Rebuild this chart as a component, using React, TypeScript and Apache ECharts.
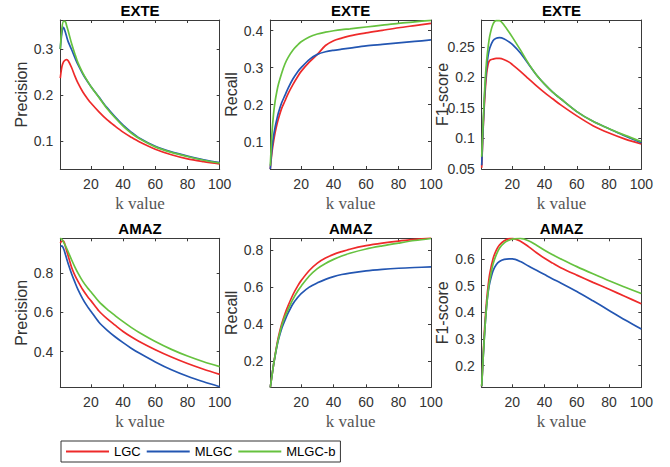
import React, { useEffect, useRef } from "react";
import * as echarts from "echarts";

// ---- data ----
const K = [1, 2, 3, 4, 5, 6, 8, 10, 12, 15, 18, 20, 25, 30, 35, 40, 45, 50, 60, 70, 80, 90, 100];
const SERIES_NAMES = ["LGC", "MLGC", "MLGC-b"];
const COLORS = ["#ee2a2a", "#2356b2", "#66c23f"];
const X_TICKS = [20, 40, 60, 80, 100];

// EXTE
const extePrecLGC = [0.237, 0.262, 0.272, 0.276, 0.277, 0.274, 0.26, 0.242, 0.226, 0.207, 0.192, 0.183, 0.164, 0.147, 0.133, 0.12, 0.109, 0.099, 0.083, 0.071, 0.062, 0.056, 0.051];
const extePrecMLGC = [0.30, 0.335, 0.347, 0.338, 0.326, 0.315, 0.299, 0.282, 0.266, 0.246, 0.229, 0.219, 0.196, 0.173, 0.153, 0.135, 0.12, 0.107, 0.089, 0.077, 0.068, 0.06, 0.054];
const extePrecMLGCb = [0.30, 0.345, 0.36, 0.36, 0.35, 0.338, 0.312, 0.29, 0.27, 0.248, 0.23, 0.219, 0.195, 0.171, 0.151, 0.133, 0.118, 0.106, 0.088, 0.076, 0.067, 0.059, 0.053];

const exteRecLGC = [0.026, 0.07, 0.10, 0.125, 0.145, 0.162, 0.19, 0.21, 0.23, 0.255, 0.277, 0.29, 0.315, 0.336, 0.36, 0.373, 0.38, 0.386, 0.394, 0.401, 0.408, 0.414, 0.42];
const exteRecMLGC = [0.026, 0.08, 0.115, 0.14, 0.16, 0.178, 0.205, 0.225, 0.245, 0.27, 0.29, 0.3, 0.322, 0.336, 0.343, 0.347, 0.35, 0.353, 0.359, 0.363, 0.367, 0.371, 0.375];
const exteRecMLGCb = [0.035, 0.12, 0.175, 0.21, 0.235, 0.255, 0.285, 0.31, 0.328, 0.348, 0.362, 0.37, 0.383, 0.391, 0.396, 0.4, 0.403, 0.405, 0.41, 0.415, 0.42, 0.424, 0.428];

const exteF1LGC = [0.052, 0.122, 0.171, 0.205, 0.222, 0.228, 0.23, 0.231, 0.231, 0.229, 0.225, 0.221, 0.21, 0.198, 0.186, 0.175, 0.165, 0.155, 0.137, 0.121, 0.109, 0.099, 0.091];
const exteF1MLGC = [0.056, 0.125, 0.18, 0.215, 0.236, 0.248, 0.26, 0.264, 0.265, 0.263, 0.258, 0.254, 0.24, 0.222, 0.204, 0.189, 0.176, 0.165, 0.144, 0.128, 0.116, 0.104, 0.093];
const exteF1MLGCb = [0.07, 0.133, 0.188, 0.226, 0.25, 0.268, 0.287, 0.293, 0.293, 0.285, 0.274, 0.266, 0.245, 0.223, 0.204, 0.189, 0.176, 0.165, 0.144, 0.128, 0.116, 0.105, 0.095];

// AMAZ
const amazPrecLGC = [0.952, 0.963, 0.963, 0.94, 0.912, 0.885, 0.83, 0.79, 0.758, 0.715, 0.68, 0.66, 0.607, 0.568, 0.535, 0.503, 0.476, 0.452, 0.41, 0.373, 0.34, 0.311, 0.285];
const amazPrecMLGC = [0.935, 0.938, 0.925, 0.9, 0.872, 0.845, 0.797, 0.755, 0.716, 0.668, 0.628, 0.606, 0.55, 0.51, 0.476, 0.446, 0.418, 0.393, 0.348, 0.308, 0.275, 0.247, 0.222];
const amazPrecMLGCb = [0.977, 0.972, 0.958, 0.942, 0.925, 0.906, 0.868, 0.832, 0.8, 0.758, 0.724, 0.705, 0.655, 0.617, 0.584, 0.553, 0.524, 0.498, 0.452, 0.412, 0.378, 0.349, 0.324];

const amazRecLGC = [0.058, 0.12, 0.18, 0.235, 0.285, 0.33, 0.4, 0.455, 0.5, 0.56, 0.608, 0.635, 0.69, 0.73, 0.757, 0.777, 0.792, 0.805, 0.824, 0.838, 0.849, 0.858, 0.866];
const amazRecMLGC = [0.058, 0.12, 0.18, 0.23, 0.275, 0.315, 0.375, 0.42, 0.46, 0.51, 0.545, 0.565, 0.6, 0.623, 0.642, 0.657, 0.668, 0.676, 0.688, 0.696, 0.702, 0.706, 0.709];
const amazRecMLGCb = [0.058, 0.12, 0.18, 0.232, 0.28, 0.32, 0.39, 0.44, 0.48, 0.535, 0.58, 0.605, 0.66, 0.7, 0.728, 0.75, 0.768, 0.783, 0.806, 0.823, 0.838, 0.852, 0.863];

const amazF1LGC = [0.123, 0.25, 0.36, 0.44, 0.5, 0.545, 0.6, 0.632, 0.652, 0.668, 0.676, 0.677, 0.666, 0.646, 0.623, 0.602, 0.584, 0.567, 0.539, 0.512, 0.486, 0.459, 0.432];
const amazF1MLGC = [0.123, 0.24, 0.34, 0.42, 0.475, 0.51, 0.555, 0.578, 0.59, 0.598, 0.6, 0.6, 0.59, 0.573, 0.557, 0.541, 0.525, 0.51, 0.478, 0.443, 0.407, 0.371, 0.337];
const amazF1MLGCb = [0.123, 0.24, 0.34, 0.42, 0.48, 0.52, 0.58, 0.615, 0.64, 0.66, 0.67, 0.674, 0.677, 0.668, 0.651, 0.632, 0.615, 0.6, 0.571, 0.544, 0.518, 0.494, 0.47];

const PANELS = [
  { title: "EXTE", yName: "Precision", series: [extePrecLGC, extePrecMLGC, extePrecMLGCb], yMin: 0.04, yMax: 0.363, yTicks: [0.1, 0.2, 0.3] },
  { title: "EXTE", yName: "Recall", series: [exteRecLGC, exteRecMLGC, exteRecMLGCb], yMin: 0.026, yMax: 0.429, yTicks: [0.1, 0.2, 0.3, 0.4] },
  { title: "EXTE", yName: "F1-score", series: [exteF1LGC, exteF1MLGC, exteF1MLGCb], yMin: 0.05, yMax: 0.294, yTicks: [0.05, 0.1, 0.15, 0.2, 0.25] },
  { title: "AMAZ", yName: "Precision", series: [amazPrecLGC, amazPrecMLGC, amazPrecMLGCb], yMin: 0.219, yMax: 0.977, yTicks: [0.4, 0.6, 0.8] },
  { title: "AMAZ", yName: "Recall", series: [amazRecLGC, amazRecMLGC, amazRecMLGCb], yMin: 0.058, yMax: 0.864, yTicks: [0.2, 0.4, 0.6, 0.8] },
  { title: "AMAZ", yName: "F1-score", series: [amazF1LGC, amazF1MLGC, amazF1MLGCb], yMin: 0.119, yMax: 0.677, yTicks: [0.2, 0.3, 0.4, 0.5, 0.6] },
];

// layout
const COL_LEFT = [60.3, 270.3, 481.7];
const COL_WIDTH = [159.4, 160.7, 159.6];
const ROW_TOP = [20, 238.3];
const PLOT_H = 149;

const AXIS_COLOR = "#3a3a3a";
const LABEL_COLOR = "#333";
const SANS = "Liberation Sans";
const SERIF = "'Liberation Serif', 'DejaVu Serif', serif";

function buildOption() {
  const grid: any[] = [];
  const xAxis: any[] = [];
  const yAxis: any[] = [];
  const series: any[] = [];
  const graphic: any[] = [];

  PANELS.forEach((p, i) => {
    const col = i % 3;
    const row = Math.floor(i / 3);
    const left = COL_LEFT[col];
    const top = ROW_TOP[row];
    const width = COL_WIDTH[col];
    grid.push({ left, top, width, height: PLOT_H, containLabel: false });

    const tickBase = {
      show: true,
      inside: true,
      length: 3,
      lineStyle: { color: AXIS_COLOR, width: 1 },
    };
    const lineBase = { show: true, onZero: false, lineStyle: { color: AXIS_COLOR, width: 1 } };
    xAxis.push({
      type: "value",
      gridIndex: i,
      position: "bottom",
      min: 1,
      max: 100,
      axisLine: lineBase,
      axisTick: { ...tickBase, customValues: X_TICKS },
      axisLabel: {
        show: true,
        customValues: X_TICKS,
        fontSize: 14,
        fontFamily: SANS,
        color: LABEL_COLOR,
        margin: 8,
        formatter: (v: number) => String(v),
      },
      splitLine: { show: false },
    });
    xAxis.push({
      type: "value",
      gridIndex: i,
      position: "top",
      min: 1,
      max: 100,
      axisLine: lineBase,
      axisTick: { ...tickBase, customValues: X_TICKS },
      axisLabel: { show: false },
      splitLine: { show: false },
    });
    yAxis.push({
      type: "value",
      gridIndex: i,
      position: "left",
      min: p.yMin,
      max: p.yMax,
      axisLine: lineBase,
      axisTick: { ...tickBase, customValues: p.yTicks },
      axisLabel: {
        show: true,
        customValues: p.yTicks,
        fontSize: 14,
        fontFamily: SANS,
        color: LABEL_COLOR,
        margin: 7,
        formatter: (v: number) => String(Math.round(v * 1000) / 1000),
      },
      splitLine: { show: false },
    });
    yAxis.push({
      type: "value",
      gridIndex: i,
      position: "right",
      min: p.yMin,
      max: p.yMax,
      axisLine: lineBase,
      axisTick: { ...tickBase, customValues: p.yTicks },
      axisLabel: { show: false },
      splitLine: { show: false },
    });

    p.series.forEach((vals, s) => {
      series.push({
        type: "line",
        name: SERIES_NAMES[s],
        xAxisIndex: 2 * i,
        yAxisIndex: 2 * i,
        data: K.map((k, j) => [k, vals[j]]),
        showSymbol: false,
        symbol: "none",
        smooth: 0.3,
        lineStyle: { color: COLORS[s], width: 1.7 },
        itemStyle: { color: COLORS[s] },
        z: 3 + s,
      });
    });

    const cx = left + width / 2;
    graphic.push({
      type: "text",
      x: cx,
      y: top - 9.5,
      style: {
        text: p.title,
        fontSize: 15,
        fontWeight: "bold",
        fontFamily: SANS,
        fill: "#000",
        textAlign: "center",
        textVerticalAlign: "middle",
      },
    });
    graphic.push({
      type: "text",
      x: left - 39,
      y: top + PLOT_H / 2,
      rotation: Math.PI / 2,
      style: {
        text: p.yName,
        fontSize: 16,
        fontFamily: SANS,
        fill: LABEL_COLOR,
        textAlign: "center",
        textVerticalAlign: "middle",
      },
    });
    graphic.push({
      type: "text",
      x: cx,
      y: top + PLOT_H + 34,
      style: {
        text: "k value",
        fontSize: 17,
        fontFamily: SERIF,
        fontWeight: "normal",
        fill: "#555",
        textAlign: "center",
        textVerticalAlign: "middle",
      },
    });
  });

  return {
    animation: false,
    backgroundColor: "#fff",
    grid,
    xAxis,
    yAxis,
    series,
    graphic,
    legend: {
      data: SERIES_NAMES,
      left: 61,
      top: 441,
      orient: "horizontal",
      icon: "rect",
      itemWidth: 43,
      itemHeight: 2,
      itemGap: 6,
      padding: [4, 5, 4, 5],
      borderColor: "#333",
      borderWidth: 1,
      borderRadius: 0,
      backgroundColor: "#fff",
      textStyle: { fontSize: 13, fontFamily: SANS, color: "#000" },
    },
  };
}

export default function App() {
  const ref = useRef<HTMLDivElement>(null);
  useEffect(() => {
    if (!ref.current) return;
    const chart = echarts.init(ref.current, undefined, { renderer: "svg" });
    chart.setOption(buildOption() as any);
    return () => chart.dispose();
  }, []);
  return (
    <div
      ref={ref}
      style={{ position: "fixed", left: 0, top: 0, width: 670, height: 467, background: "#fff" }}
    />
  );
}
